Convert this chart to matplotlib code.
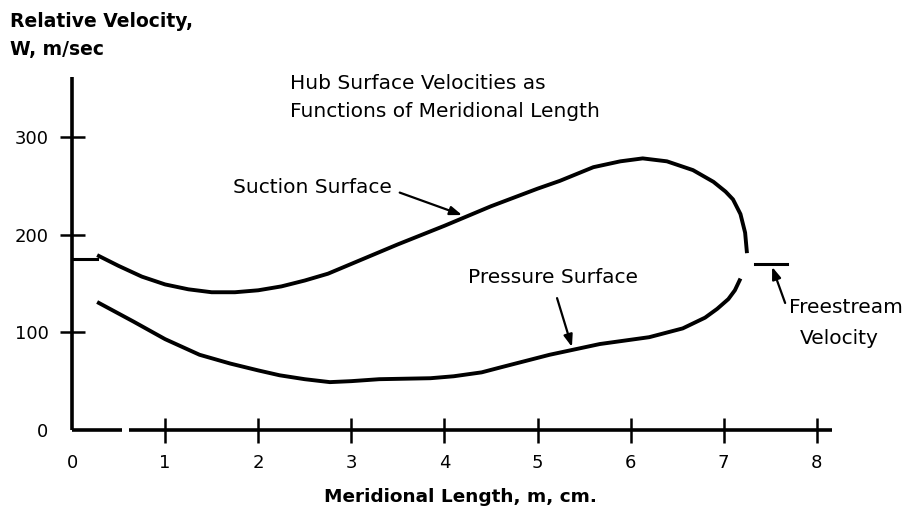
import matplotlib
matplotlib.use("Agg")
import matplotlib.pyplot as plt

# ---- data ----
suction_x = [0.27, 0.5, 0.75, 1.0, 1.25, 1.5, 1.75, 2.0, 2.25, 2.5, 2.75, 3.0, 3.5,
             4.0, 4.5, 5.0, 5.24, 5.6, 5.89, 6.13, 6.39, 6.67, 6.89, 7.02, 7.1,
             7.18, 7.23, 7.25]
suction_v = [179, 168, 157, 149, 144, 141, 141, 143, 147, 153, 160, 170, 190,
             209, 229, 247, 255, 269, 275, 278, 275, 266, 254, 244, 236,
             221, 202, 181]

pressure_x = [0.27, 0.66, 1.0, 1.37, 1.7, 2.0, 2.23, 2.5, 2.77, 3.0, 3.3, 3.85, 4.1,
              4.4, 4.6, 5.13, 5.67, 6.2, 6.56, 6.8, 6.93, 7.05, 7.12, 7.18]
pressure_v = [131, 111, 93, 77, 68, 61, 56, 52, 49, 50, 52, 53, 55,
              59, 64, 77, 88, 95, 104, 115, 124, 134, 143, 155]

freestream_v = 172
freestream_left_x = [0.0, 0.27]
freestream_right_x = [7.34, 7.68]

x_ticks = [0, 1, 2, 3, 4, 5, 6, 7, 8]
x_tick_labels = ["0", "1", "2", "3", "4", "5", "6", "7", "8"]
y_ticks = [0, 100, 200, 300]
y_tick_labels = ["0", "100", "200", "300"]

title_lines = "Hub Surface Velocities as\nFunctions of Meridional Length"
ylabel_text = "Relative Velocity,\nW, m/sec"
xlabel_text = "Meridional Length, m, cm."

# ---- figure ----
W, H = 911, 511
fig = plt.figure(figsize=(W / 100, H / 100), dpi=100)
plt.rcParams['font.family'] = ['DejaVu Sans']

ax_left, ax_right, ax_bottom, ax_top = 72, 870, 430, 70
ax = fig.add_axes([ax_left / W, (H - ax_bottom) / H,
                   (ax_right - ax_left) / W, (ax_bottom - ax_top) / H])
ax.set_xlim(0, (ax_right - ax_left) / 93.1)
ax.set_ylim(0, (ax_bottom - ax_top) / 0.977)
for s in ax.spines.values():
    s.set_visible(False)

lw = 2.8
# axes lines
ax.plot([0, 0], [0, 361], color='black', lw=2.6, clip_on=False, solid_capstyle='butt')
ax.plot([0, 0.54], [0, 0], color='black', lw=2.6, clip_on=False, solid_capstyle='butt')
ax.plot([0.61, 8.16], [0, 0], color='black', lw=2.6, clip_on=False, solid_capstyle='butt')

# curves
ax.plot(suction_x, suction_v, color='black', lw=lw, solid_capstyle='butt',
        solid_joinstyle='round')
ax.plot(pressure_x, pressure_v, color='black', lw=lw, solid_capstyle='butt',
        solid_joinstyle='round')
ax.plot(freestream_left_x, [freestream_v + 3] * 2, color='black', lw=2.2, clip_on=False)
ax.plot(freestream_right_x, [freestream_v - 2] * 2, color='black', lw=2.2, clip_on=False)

# ticks
ax.set_xticks(x_ticks)
ax.set_xticklabels(x_tick_labels)
ax.set_yticks(y_ticks)
ax.set_yticklabels(y_tick_labels)
ax.tick_params(axis='both', direction='inout', length=18, width=1.8, pad=8,
               labelsize=13, color='black')
ax.xaxis.get_major_ticks()[0].tick1line.set_visible(False)
ax.yaxis.get_major_ticks()[0].tick1line.set_visible(False)

fs = 14.5
# labels
ax.set_xlabel(xlabel_text, fontsize=13.3, fontweight='bold', va='center')
ax.xaxis.set_label_coords((460 - ax_left) / (ax_right - ax_left),
                          (ax_bottom - 497) / (ax_bottom - ax_top))
fig.text(10 / W, 1 - 35 / H, ylabel_text, ha='left', va='center',
         fontsize=13.5, fontweight='bold', linespacing=1.6)

ax.text(2.34, 340, title_lines, ha='left', va='center', fontsize=fs,
        linespacing=1.6)

# annotations
arrow_kw = dict(arrowstyle='-|>,head_length=0.6,head_width=0.22', color='black',
                lw=1.6, shrinkA=0, shrinkB=0, mutation_scale=12)
ax.text(3.44, 248, "Suction Surface", ha='right', va='center', fontsize=fs)
ax.annotate("", xy=(4.19, 220), xytext=(3.52, 243), arrowprops=arrow_kw)
ax.text(5.17, 156, "Pressure Surface", ha='center', va='center', fontsize=fs)
ax.annotate("", xy=(5.37, 85), xytext=(5.21, 135), arrowprops=arrow_kw)
ax.annotate("", xy=(7.52, 167), xytext=(7.66, 130), arrowprops=arrow_kw,
            annotation_clip=False)
ax.text(7.70, 125, "Freestream", ha='left', va='center', fontsize=fs, clip_on=False)
ax.text(7.82, 94, "Velocity", ha='left', va='center', fontsize=fs, clip_on=False)

fig.savefig("out.png", dpi=100)
